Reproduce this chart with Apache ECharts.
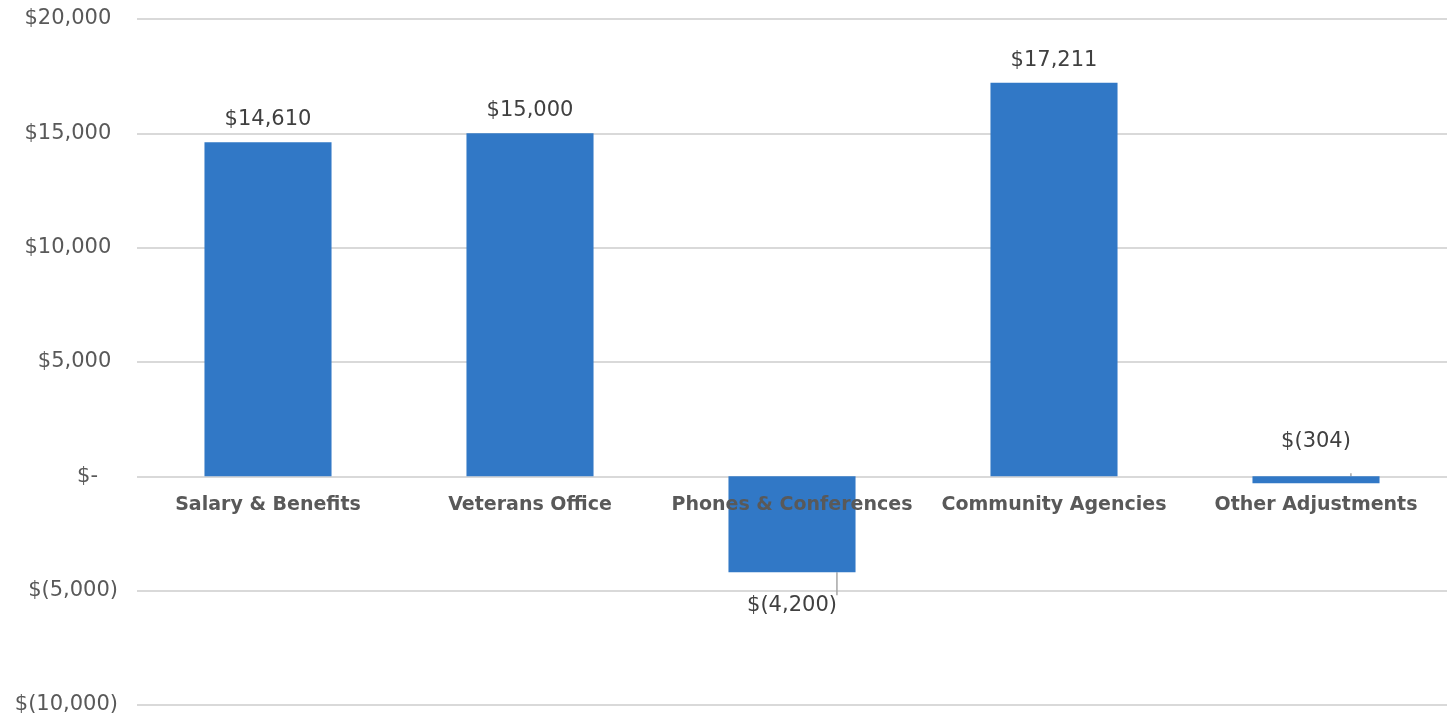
<!DOCTYPE html>
<html>
<head>
<meta charset="utf-8">
<script src="https://cdn.jsdelivr.net/npm/echarts@6/dist/echarts.min.js"></script>
<style>
  html, body { margin: 0; padding: 0; background: #fff; }
  #main { width: 1447px; height: 717px; }
</style>
</head>
<body>
<div id="main"></div>
<script>
const categories = ['Salary & Benefits', 'Veterans Office', 'Phones & Conferences', 'Community Agencies', 'Other Adjustments'];
const values = [14610, 15000, -4200, 17211, -304];
const yTicks = [-10000, -5000, 0, 5000, 10000, 15000, 20000];

// accounting style: $1,234 / $(1,234) / $-
function money(v, pad) {
    if (v === 0) return '$-' + (pad ? '   ' : '')
    let s = Math.abs(v).toLocaleString('en-US')
    return v < 0 ? '$(' + s + ')' : '$' + s + (pad ? ' ' : '')
}

const fontFamily = '"DejaVu Sans", sans-serif'

var myChart = echarts.init(document.getElementById('main'))

var option = {
    animation: false,
    grid: { left: 137, right: 0, top: 19, bottom: 12, outerBoundsMode: 'none', containLabel: false },
    xAxis: {
        type: 'category',
        data: categories,
        axisLine: { show: false },
        axisTick: { show: false },
        axisLabel: { show: false }
    },
    yAxis: {
        type: 'value',
        min: yTicks[0],
        max: yTicks[yTicks.length - 1],
        interval: 5000,
        axisLine: { show: false },
        axisTick: { show: false },
        splitLine: { lineStyle: { color: '#d9d9d9', width: 2 } },
        axisLabel: {
            color: '#595959',
            fontSize: 21,
            fontFamily: fontFamily,
            margin: 19,
            formatter: function (v) { return money(v, true) }
        }
    },
    series: [{
        type: 'bar',
        barWidth: '48.5%',
        itemStyle: { color: '#3178c6' },
        label: {
            show: true,
            color: '#404040',
            fontSize: 21,
            fontFamily: fontFamily,
            distance: 12,
            position: 'top',
            formatter: function (p) { return money(p.value, false) }
        },
        labelLine: {
            show: true,
            lineStyle: { color: '#a6a6a6', width: 1.5 }
        },
        // negative bars: label below, the small one above, both with a guide line
        data: values.map(function (v) {
            if (v < 0 && v > -1000) {
                return { value: v, label: { position: 'top', distance: 24 } }
            }
            if (v < 0) {
                return { value: v, label: { position: 'bottom', distance: 23 } }
            }
            return { value: v, labelLine: { show: false } }
        })
    }, {
        // category names sit just under the zero line, drawn over the bars
        type: 'bar',
        barGap: '-100%',
        barWidth: '48.5%',
        silent: true,
        itemStyle: { color: 'transparent' },
        data: categories.map(function () { return 0 }),
        label: {
            show: true,
            position: 'bottom',
            distance: 19,
            color: '#595959',
            fontSize: 19,
            fontWeight: 'bold',
            fontFamily: fontFamily,
            formatter: function (p) { return p.name }
        }
    }]
};

myChart.setOption(option);
</script>
</body>
</html>
